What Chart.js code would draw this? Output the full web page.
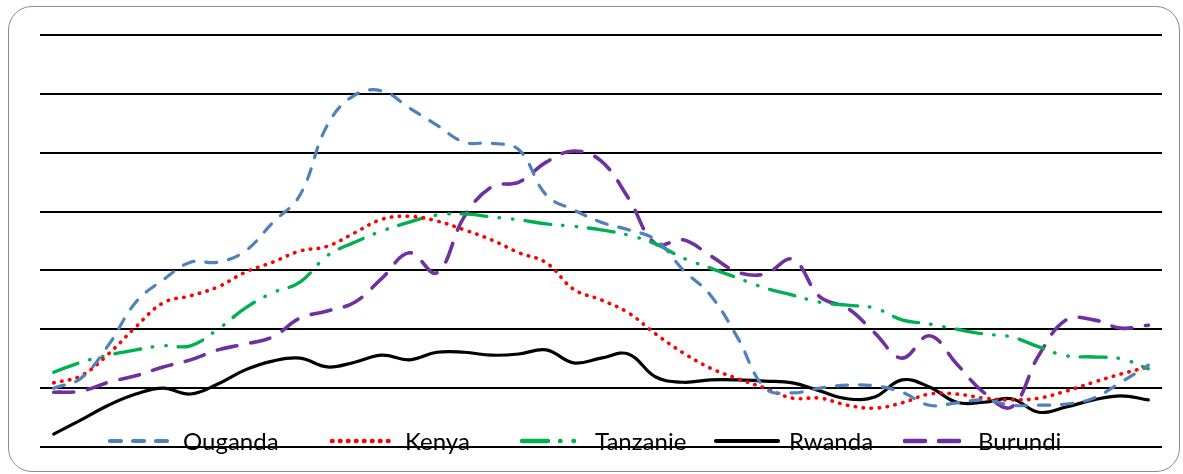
<!DOCTYPE html>
<html>
<head>
<meta charset="utf-8">
<script src="https://cdn.jsdelivr.net/npm/chart.js@4.4.1/dist/chart.umd.min.js"></script>
<style>
    html, body { margin: 0; padding: 0; background: #fff; }
    #wrap { position: relative; width: 1183px; height: 474px; overflow: hidden; }
    #frame {
        position: absolute; left: 8px; top: 6px; width: 1170px; height: 464px;
        border: 1.5px solid #8c8c8c; border-radius: 24px;
    }
    #chart { position: absolute; left: 0; top: 0; }
    #legend {
        position: absolute; left: 0; top: 427px; width: 1183px; height: 28px;
        font-family: Lato, "Noto Sans", sans-serif; font-size: 24px; color: #000;
    }
    #legend .item {
        position: absolute; top: 0; height: 28px;
        display: flex; align-items: center; gap: 8px; line-height: 28px;
    }
    #legend svg { display: block; }
</style>
</head>
<body>
<div id="wrap">
    <div id="frame"></div>
    <canvas id="chart" width="1183" height="474"></canvas>
    <div id="legend"></div>
</div>
<script>
const periodes = ['1', '2', '3', '4', '5', '6', '7', '8', '9', '10',
    '11', '12', '13', '14', '15', '16', '17', '18', '19', '20',
    '21', '22', '23', '24', '25', '26', '27', '28', '29', '30',
    '31', '32', '33', '34', '35', '36', '37', '38', '39', '40', '41'];

const ouganda = [1.00, 1.17, 1.73, 2.46, 2.84, 3.14, 3.14, 3.33, 3.81, 4.28,
    5.47, 5.98, 6.05, 5.76, 5.47, 5.18, 5.16, 5.05, 4.28, 4.03,
    3.82, 3.69, 3.52, 3.01, 2.58, 1.85, 1.00, 0.92, 1.00, 1.05,
    1.04, 0.93, 0.71, 0.75, 0.80, 0.71, 0.71, 0.73, 0.83, 1.10, 1.39];

const kenya = [1.09, 1.21, 1.58, 2.04, 2.45, 2.57, 2.72, 2.97, 3.14, 3.33,
    3.41, 3.64, 3.87, 3.92, 3.84, 3.69, 3.52, 3.30, 3.13, 2.68,
    2.50, 2.28, 1.92, 1.60, 1.34, 1.16, 1.00, 0.83, 0.83, 0.71,
    0.66, 0.75, 0.90, 0.90, 0.83, 0.80, 0.83, 0.95, 1.10, 1.24, 1.36];

const tanzanie = [1.27, 1.44, 1.56, 1.65, 1.72, 1.72, 2.00, 2.36, 2.62, 2.80,
    3.25, 3.48, 3.67, 3.82, 3.94, 3.96, 3.91, 3.86, 3.79, 3.75,
    3.69, 3.60, 3.45, 3.21, 3.04, 2.87, 2.70, 2.58, 2.46, 2.41,
    2.36, 2.16, 2.09, 2.00, 1.92, 1.87, 1.70, 1.55, 1.53, 1.50, 1.33];

const rwanda = [0.22, 0.46, 0.71, 0.90, 1.00, 0.90, 1.07, 1.31, 1.46, 1.51,
    1.36, 1.44, 1.56, 1.48, 1.61, 1.61, 1.56, 1.58, 1.65, 1.43,
    1.51, 1.58, 1.19, 1.10, 1.14, 1.14, 1.12, 1.09, 0.95, 0.82,
    0.85, 1.14, 1.02, 0.76, 0.76, 0.82, 0.59, 0.68, 0.80, 0.87, 0.80];

const burundi = [0.93, 0.95, 1.10, 1.21, 1.36, 1.48, 1.65, 1.75, 1.87, 2.19,
    2.31, 2.46, 2.87, 3.30, 2.96, 3.91, 4.42, 4.50, 4.84, 5.03,
    4.86, 4.23, 3.45, 3.52, 3.25, 2.97, 2.94, 3.19, 2.55, 2.36,
    1.94, 1.51, 1.89, 1.41, 0.92, 0.68, 1.56, 2.16, 2.16, 2.02, 2.07];

const yTicks = [0, 1, 2, 3, 4, 5, 6, 7];

function serie(label, data, color, dash, width) {
    return {
        label: label,
        data: data,
        borderColor: color,
        backgroundColor: color,
        borderWidth: width,
        borderDash: dash,
        borderCapStyle: 'round',
        borderJoinStyle: 'round',
        pointRadius: 0,
        pointHoverRadius: 0,
        tension: 0.4,
        fill: false
    };
}

const chart = new Chart(document.getElementById('chart'), {
    type: 'line',
    data: {
        labels: periodes,
        datasets: [
            serie('Ouganda', ouganda, '#4f81bd', [11, 12], 3.2),
            serie('Kenya', kenya, '#ff0000', [0.5, 7.5], 3.6),
            serie('Tanzanie', tanzanie, '#00b050', [26, 12, 0.5, 13, 0.5, 12], 3.4),
            serie('Rwanda', rwanda, '#000000', [], 3.2),
            serie('Burundi', burundi, '#7030a0', [20, 14], 3.6)
        ]
    },
    options: {
        responsive: false,
        animation: false,
        layout: { padding: { left: 40, right: 21, top: 35, bottom: 27 } },
        scales: {
            x: {
                offset: true,
                grid: { display: false, drawTicks: false },
                border: { display: false },
                ticks: { display: false },
                afterFit: (s) => { s.height = 0; }
            },
            y: {
                min: yTicks[0],
                max: yTicks[yTicks.length - 1],
                afterBuildTicks: (s) => { s.ticks = yTicks.map(v => ({ value: v })); },
                grid: { color: '#000', lineWidth: 2, drawTicks: false },
                border: { display: false },
                ticks: { display: false },
                afterFit: (s) => { s.width = 0; }
            }
        },
        plugins: {
            legend: { display: false },
            tooltip: { enabled: false }
        }
    }
});

// legend sits over the bottom grid line, one html entry per dataset
const legendLeft = [107, 329, 519, 713, 902];
const legend = document.getElementById('legend');
chart.data.datasets.forEach((ds, i) => {
    const item = document.createElement('div');
    item.className = 'item';
    item.style.left = legendLeft[i] + 'px';
    const dash = ds.borderDash.length ? ds.borderDash.join(' ') : 'none';
    item.innerHTML =
        '<svg width="68" height="10"><line x1="3" y1="5" x2="65" y2="5" stroke="' + ds.borderColor +
        '" stroke-width="' + (ds.borderWidth + 1) + '" stroke-linecap="round" stroke-dasharray="' + dash + '"/></svg>' +
        '<span>' + ds.label + '</span>';
    legend.appendChild(item);
});
</script>
</body>
</html>
